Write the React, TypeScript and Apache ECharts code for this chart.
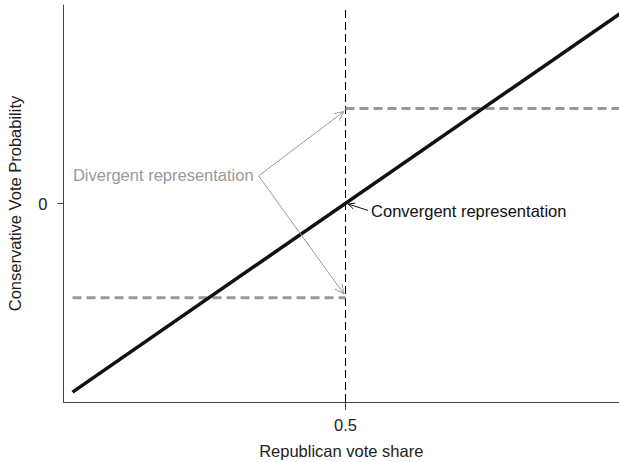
import React, { useEffect, useRef } from "react";
import * as echarts from "echarts";

// Republican vote share (x) vs conservative vote probability (y), schematic units
const convergentX = [0.016, 0.986];
const convergentY = [-0.95, 0.955];
const divergentLowX = [0.016, 0.5];
const divergentLowY = [-0.475, -0.475];
const divergentHighX = [0.5, 0.986];
const divergentHighY = [0.478, 0.478];
const cutoffX = [0.5, 0.5];
const cutoffY = [-1, 0.99];
const xTicks = [0.5];
const yTicks = [0];
// annotation anchor points (data units)
const divergentLabel = { text: "Divergent representation", x: 0.346, y: 0.139 };
const divergentTargets = [
  [0.497, 0.463],
  [0.497, -0.455],
];
const convergentLabel = { text: "Convergent representation", from: [0.54, -0.035], to: [0.505, -0.003] };

const FONT = "'Liberation Sans', Arial, Helvetica, sans-serif";
const FS = 16.5;

export default function App() {
  const ref = useRef<HTMLDivElement>(null);
  useEffect(() => {
    if (!ref.current) return;
    const chart = echarts.init(ref.current, undefined, { renderer: "svg" });
    const pairs = (xs: number[], ys: number[]) => xs.map((x, i) => [x, ys[i]]);
    chart.setOption({
      animation: false,
      textStyle: { fontFamily: FONT },
      grid: { left: 63.5, right: 0, top: 5, bottom: 60, outerBoundsMode: "none", containLabel: false },
      xAxis: {
        type: "value",
        min: 0,
        max: 0.985,
        name: "Republican vote share",
        nameLocation: "middle",
        nameGap: 40,
        nameTextStyle: { fontSize: FS, color: "#222", fontFamily: FONT },
        axisLine: { onZero: false, lineStyle: { color: "#444", width: 1 } },
        axisTick: { show: true, customValues: xTicks, length: 8, lineStyle: { color: "#444" } },
        axisLabel: { customValues: xTicks, fontSize: FS, color: "#222", margin: 14, fontFamily: FONT },
        splitLine: { show: false },
      },
      yAxis: {
        type: "value",
        min: -1,
        max: 1,
        name: "Conservative Vote Probability",
        nameLocation: "middle",
        nameGap: 40,
        nameTextStyle: { fontSize: FS, color: "#222", fontFamily: FONT },
        axisLine: { show: true, onZero: false, lineStyle: { color: "#444", width: 1 } },
        axisTick: { show: true, customValues: yTicks, length: 6, lineStyle: { color: "#444" } },
        axisLabel: { customValues: yTicks, fontSize: FS, color: "#222", margin: 16, fontFamily: FONT },
        splitLine: { show: false },
      },
      series: [
        {
          type: "line",
          data: pairs(cutoffX, cutoffY),
          symbol: "none",
          lineStyle: { color: "#000", width: 1, type: [8, 4] },
          z: 1,
        },
        {
          type: "line",
          data: pairs(divergentLowX, divergentLowY),
          symbol: "none",
          lineStyle: { color: "#999", width: 3, type: [9, 5] },
          z: 2,
        },
        {
          type: "line",
          data: pairs(divergentHighX, divergentHighY),
          symbol: "none",
          lineStyle: { color: "#999", width: 3, type: [9, 5] },
          z: 2,
        },
        {
          type: "line",
          data: pairs(convergentX, convergentY),
          symbol: "none",
          lineStyle: { color: "#111", width: 3.5 },
          z: 3,
        },
      ],
    });

    const px = (p: number[]) => chart.convertToPixel({ gridIndex: 0 }, p) as number[];
    const arrow = (from: number[], to: number[], color: string, width: number, head: number) => {
      const a = px(from);
      const b = px(to);
      const ang = Math.atan2(b[1] - a[1], b[0] - a[0]);
      const spread = 0.45;
      const h1 = [b[0] - head * Math.cos(ang - spread), b[1] - head * Math.sin(ang - spread)];
      const h2 = [b[0] - head * Math.cos(ang + spread), b[1] - head * Math.sin(ang + spread)];
      return [
        { type: "line", shape: { x1: a[0], y1: a[1], x2: b[0], y2: b[1] }, style: { stroke: color, lineWidth: width }, z: 10 },
        { type: "polyline", shape: { points: [h1, b, h2] }, style: { stroke: color, lineWidth: width, fill: null }, z: 10 },
      ];
    };
    const dl = px([divergentLabel.x, divergentLabel.y]);
    const cf = px(convergentLabel.from);
    const elements: any[] = [
      {
        type: "text",
        x: dl[0] - 5,
        y: dl[1] - 1,
        style: { text: divergentLabel.text, fill: "#999", font: `${FS}px ${FONT}`, align: "right", verticalAlign: "middle" },
        z: 10,
      },
      ...divergentTargets.flatMap((t) => arrow([divergentLabel.x, divergentLabel.y], t, "#999", 1, 10)),
      {
        type: "text",
        x: cf[0] + 3,
        y: cf[1] + 1,
        style: { text: convergentLabel.text, fill: "#111", font: `${FS}px ${FONT}`, align: "left", verticalAlign: "middle" },
        z: 10,
      },
      ...arrow(convergentLabel.from, convergentLabel.to, "#111", 1, 7),
    ];
    chart.setOption({ graphic: { elements } });
    return () => chart.dispose();
  }, []);
  return <div ref={ref} style={{ width: 619, height: 462, position: "absolute", left: 0, top: 0 }} />;
}
